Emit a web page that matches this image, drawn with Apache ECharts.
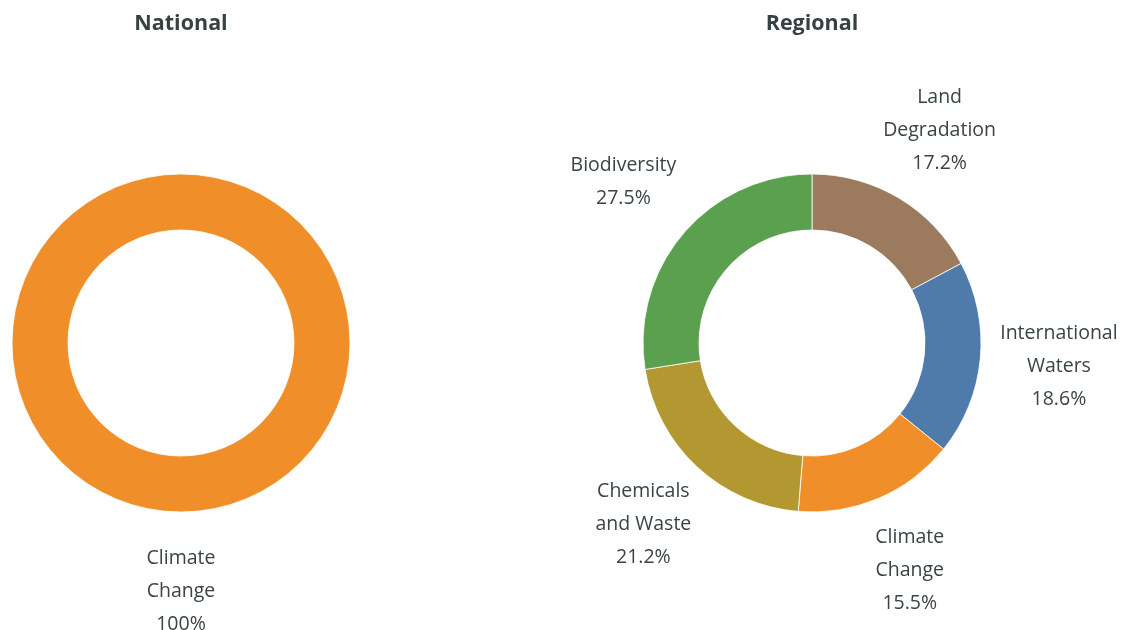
<!DOCTYPE html>
<html>
<head>
<meta charset="utf-8">
<script src="https://cdn.jsdelivr.net/npm/echarts@6/dist/echarts.min.js"></script>
<style>
html,body{margin:0;padding:0;background:#fff;}
#chart{width:1121px;height:630px;}
</style>
</head>
<body>
<div id="chart"></div>
<script>
// ---- data ----
const nationalCategories = ['Climate Change'];
const nationalValues = [100];
const nationalLabels = ['Climate\nChange'];

const regionalCategories = ['Land Degradation', 'International Waters', 'Climate Change', 'Chemicals and Waste', 'Biodiversity'];
const regionalValues = [17.2, 18.6, 15.5, 21.2, 27.5];
const regionalLabels = ['Land\nDegradation', 'International\nWaters', 'Climate\nChange', 'Chemicals\nand Waste', 'Biodiversity'];

const nationalColors = ['#F08F2A'];
const regionalColors = ['#9C7A5E', '#4F7BAA', '#F08F2A', '#B39731', '#5BA04E'];

const chartTitles = ['National', 'Regional'];

// ---- build ----
const FONT = '"Open Sans", "Liberation Sans", sans-serif';
const TEXT_COLOR = '#3A4542';

function ringData(cats, vals, colors) {
  return cats.map((c, i) => ({ name: c, value: vals[i], itemStyle: { color: colors[i] } }));
}
function labelData(cats, vals, labels) {
  return cats.map((c, i) => ({ name: c, value: vals[i], labelText: labels[i] }));
}

function donut(center, cats, vals, colors) {
  return {
    type: 'pie',
    center: center,
    radius: [113, 169],
    startAngle: 90,
    clockwise: true,
    silent: true,
    label: { show: false },
    labelLine: { show: false },
    itemStyle: { borderColor: '#ffffff', borderWidth: 0.8 },
    emphasis: { disabled: true },
    data: ringData(cats, vals, colors)
  };
}

function labelRing(center, cats, vals, labels) {
  return {
    type: 'pie',
    center: center,
    radius: [0, 490],
    startAngle: 90,
    clockwise: true,
    silent: true,
    z: 1,
    itemStyle: { color: 'rgba(0,0,0,0)' },
    emphasis: { disabled: true },
    labelLine: { show: false },
    label: {
      show: true,
      position: 'inside',
      align: 'center',
      verticalAlign: 'middle',
      color: TEXT_COLOR,
      fontFamily: FONT,
      fontSize: 19.5,
      lineHeight: 33,
      padding: [10, 0, 0, 0],
      formatter: function (p) {
        return p.data.labelText + '\n' + p.percent + '%';
      }
    },
    data: labelData(cats, vals, labels)
  };
}

const option = {
  backgroundColor: '#ffffff',
  animation: false,
  title: [
    { text: chartTitles[0], left: 181, top: 13, textAlign: 'center', padding: 0,
      textStyle: { fontFamily: FONT, fontWeight: 'bold', fontSize: 21.5, color: '#36423F' } },
    { text: chartTitles[1], left: 812, top: 13, textAlign: 'center', padding: 0,
      textStyle: { fontFamily: FONT, fontWeight: 'bold', fontSize: 21.5, color: '#36423F' } }
  ],
  series: [
    labelRing([181, 343], nationalCategories, nationalValues, nationalLabels),
    donut([181, 343], nationalCategories, nationalValues, nationalColors),
    labelRing([812, 343], regionalCategories, regionalValues, regionalLabels),
    donut([812, 343], regionalCategories, regionalValues, regionalColors)
  ]
};

const chart = echarts.init(document.getElementById('chart'), null, { renderer: 'canvas' });
chart.setOption(option);
</script>
</body>
</html>
